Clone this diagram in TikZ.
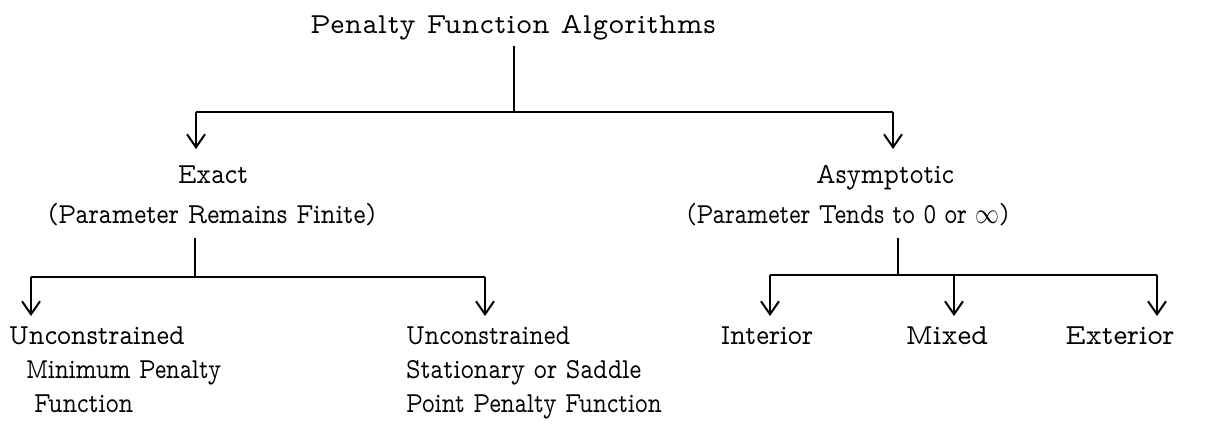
\documentclass[tikz,border=0pt]{standalone}
\usepackage{fontspec}
\newfontfamily\tw{lmmonoprop10-regular.otf}
\usetikzlibrary{arrows.meta}
\newcommand{\hsq}[2]{\scalebox{#1}[1]{#2}}
\begin{document}
\begin{tikzpicture}[x=0.5pt,y=-0.5pt,
  line width=1pt,
  >={Straight Barb[length=6.5pt,width=9pt,line width=1pt]},
  txt/.style={font=\tw\fontsize{14.5pt}{17pt}\selectfont, inner sep=3pt},
  cen/.style={txt, anchor=base},
  lft/.style={txt, anchor=base west},
  arr/.style={->}]
\useasboundingbox (0,0) rectangle (1210,424);

% texts
\node[cen] (title) at (513,33) {\addfontfeature{LetterSpace=3}Penalty Function Algorithms};
\node[cen] (exact) at (213,183) {\hsq{0.92}{Exact}};
\node[cen] (exactsub) at (212,223) {\hsq{0.88}{(Parameter Remains Finite)}};
\node[cen] (asym) at (885,183) {\hsq{0.9}{Asymptotic}};
\node[cen] (asymsub) at (848,223) {\hsq{0.83}{(Parameter Tends to 0 or $\infty$)}};

\node[lft] (umA) at (2,344) {\hsq{0.92}{Unconstrained}};
\node[lft] (umB) at (19,378) {\hsq{0.82}{Minimum Penalty}};
\node[lft] (umC) at (27,412) {\hsq{0.85}{Function}};

\node[lft] (usA) at (399,344) {\hsq{0.86}{Unconstrained}};
\node[lft] (usB) at (399,378) {\hsq{0.86}{Stationary or Saddle}};
\node[lft] (usC) at (399,412) {\hsq{0.83}{Point Penalty Function}};

\node[cen] (int) at (767,344) {\hsq{0.93}{Interior}};
\node[cen] (mix) at (947,344) {Mixed};
\node[cen] (ext) at (1120,344) {Exterior};

% junctions and tips
\coordinate (v1) at (514,46);
\coordinate (h1w) at (196,112);
\coordinate (h1c) at (514,112);
\coordinate (h1e) at (893,112);
\coordinate (t1w) at (196,149);
\coordinate (t1e) at (893,149);
\coordinate (v2) at (195,238);
\coordinate (h2c) at (195,277);
\coordinate (h2w) at (31,277);
\coordinate (h2e) at (485,277);
\coordinate (t2w) at (31,316);
\coordinate (t2e) at (485,316);
\coordinate (v3) at (898,238);
\coordinate (h3c) at (898,275);
\coordinate (h3w) at (770,275);
\coordinate (h3m) at (954,275);
\coordinate (h3e) at (1157,275);
\coordinate (t3w) at (770,316);
\coordinate (t3m) at (954,316);
\coordinate (t3e) at (1157,316);

% top level
\draw (v1) -- (h1c);
\draw (h1w) -- (h1e);
\draw[arr] (h1w) -- (t1w);
\draw[arr] (h1e) -- (t1e);

% exact branch
\draw (v2) -- (h2c);
\draw (h2w) -- (h2e);
\draw[arr] (h2w) -- (t2w);
\draw[arr] (h2e) -- (t2e);

% asymptotic branch
\draw (v3) -- (h3c);
\draw (h3w) -- (h3e);
\draw[arr] (h3w) -- (t3w);
\draw[arr] (h3m) -- (t3m);
\draw[arr] (h3e) -- (t3e);
\end{tikzpicture}
\end{document}
